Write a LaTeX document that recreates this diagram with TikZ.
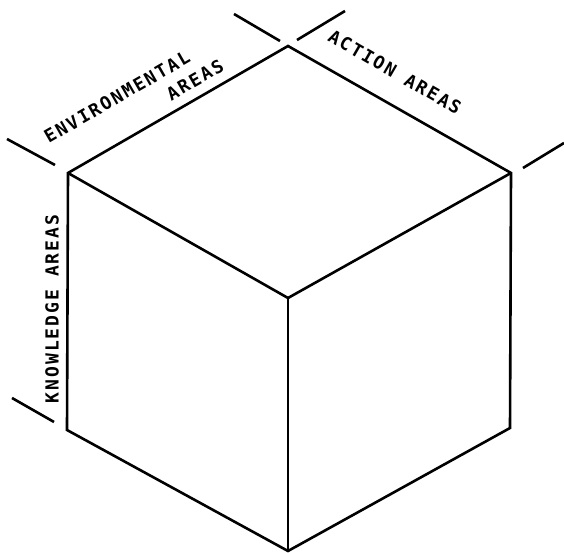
\documentclass[tikz,border=0pt]{standalone}
\usepackage{fontspec}
\newfontfamily\lettering[LetterSpace=11]{DejaVu Sans Mono}
\begin{document}
\begin{tikzpicture}[x=1pt,y=1pt,
  edge/.style={line width=2.6pt,line join=miter},
  tick/.style={line width=2.6pt},
  lbl/.style={font=\lettering\bfseries\fontsize{18}{18}\selectfont,inner sep=0pt}]
\useasboundingbox (0,0) rectangle (564,553);
% cube vertices
\coordinate (T) at (288,507);
\coordinate (LT) at (68,380);
\coordinate (RT) at (511,380);
\coordinate (C) at (288,255);
\coordinate (LB) at (67,123);
\coordinate (RB) at (510,125);
\coordinate (B) at (288,2);
\draw[edge] (T) -- (RT) -- (RB) -- (B) -- (LB) -- (LT) -- cycle;
\draw[edge] (LT) -- (C) -- (RT);
\draw[edge] (C) -- (B);
% ticks
\coordinate (t1a) at (234,539); \coordinate (t1b) at (280,512);
\coordinate (t2a) at (297,513); \coordinate (t2b) at (345,542);
\coordinate (t3a) at (7,414);   \coordinate (t3b) at (55,388);
\coordinate (t4a) at (12,155);  \coordinate (t4b) at (54,131);
\coordinate (t5a) at (523,385); \coordinate (t5b) at (564,410);
\draw[tick] (t1a) -- (t1b);
\draw[tick] (t2a) -- (t2b);
\draw[tick] (t3a) -- (t3b);
\draw[tick] (t4a) -- (t4b);
\draw[tick] (t5a) -- (t5b);
% labels
\node[lbl,rotate=30] (env) at (117,456) {ENVIRONMENTAL};
\node[lbl,rotate=30] (envareas) at (195,473) {AREAS};
\node[lbl,rotate=-30] (act) at (395,481) {ACTION AREAS};
\node[lbl,rotate=90] (know) at (52,244) {KNOWLEDGE AREAS};
\end{tikzpicture}
\end{document}
